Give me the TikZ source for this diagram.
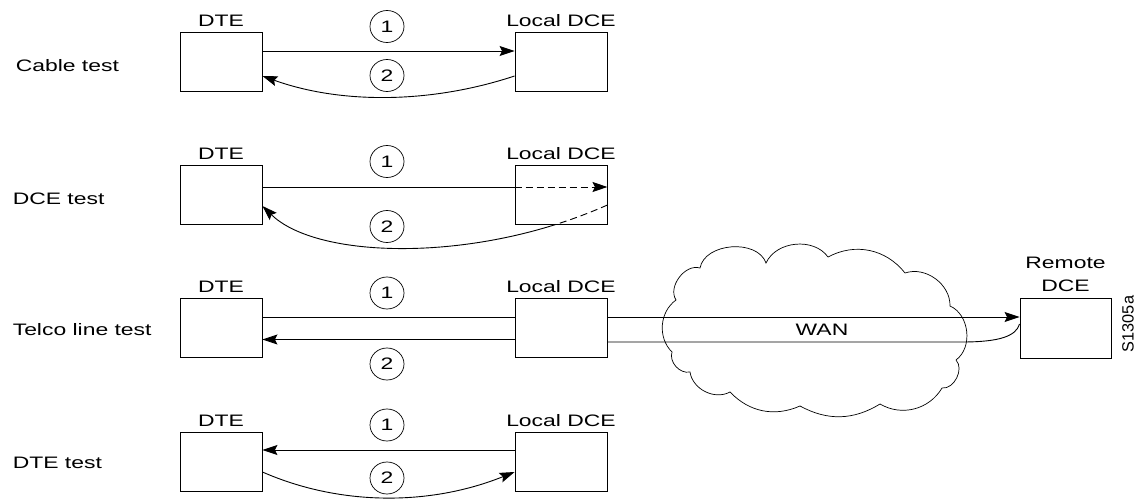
\documentclass[tikz,border=0pt]{standalone}
\usepackage{fontspec}
\setmainfont[FakeStretch=1.38]{Liberation Sans}
\newfontfamily\codefont{Liberation Sans}
\usetikzlibrary{arrows.meta,shapes.geometric,calc}
\begin{document}
\begin{tikzpicture}[x=1pt,y=-1pt,
  font=\fontsize{16.6}{19.5}\selectfont,
  line width=0.9pt,
  box/.style={draw, inner sep=0pt, minimum height=59pt},
  dtebox/.style={box, minimum width=82pt},
  dcebox/.style={box, minimum width=92pt},
  num/.style={draw, ellipse, minimum width=34pt, minimum height=32pt, inner sep=0pt, line width=0.7pt},
  tip/.style={-{Stealth[length=15pt,width=10pt,inset=2.5pt]}},
  rowname/.style={anchor=base west},
  boxname/.style={anchor=base}]
\useasboundingbox (0,0) rectangle (1147,500);

% row titles
\node[rowname] (r1) at (12,71.5) {Cable test};
\node[rowname] (r2) at (9,204) {DCE test};
\node[rowname] (r3) at (9,335.5) {Telco line test};
\node[rowname] (r4) at (9,468) {DTE test};

% boxes
\node[dtebox] (dte1) at (221,61.5) {};
\node[dcebox] (dce1) at (561,61.5) {};
\node[dtebox] (dte2) at (221,195) {};
\node[dcebox] (dce2) at (561,195) {};
\node[dtebox] (dte3) at (221,328) {};
\node[dcebox] (dce3) at (561,328) {};
\node[dtebox] (dte4) at (221,462) {};
\node[dcebox] (dce4) at (561,462) {};
\node[box, minimum width=91pt, minimum height=60pt] (rdce) at (1065.5,328) {};

% box captions
\foreach \i in {1,2,3,4}{
  \node[boxname] (ldte\i) at ([yshift=5.5pt]dte\i.north) {DTE};
  \node[boxname] (ldce\i) at ([yshift=5.5pt]dce\i.north) {Local DCE};
}
\node[anchor=south, align=center, inner sep=0pt, font=\fontsize{16.6}{23}\selectfont]
  (lrdce) at ([yshift=5.5pt]rdce.north) {Remote\\DCE};

% step numbers
\node[num] (c11) at (387,26.5) {1};
\node[num] (c12) at (387,75.5) {2};
\node[num] (c21) at (387,161.5) {1};
\node[num] (c22) at (387,226.5) {2};
\node[num] (c31) at (387,293) {1};
\node[num] (c32) at (387,364) {2};
\node[num] (c41) at (387,425) {1};
\node[num] (c42) at (387,478) {2};

% cable test
\draw[tip] ([yshift=10.5pt]dte1.east) -- ([yshift=10.5pt]dce1.west);
\draw[tip] ([yshift=-14.5pt]dce1.west) .. controls (430,104) and (340,104) .. ([yshift=-14.5pt]dte1.east);

% DCE test
\draw ([yshift=8pt]dte2.east) -- ([yshift=8pt]dce2.west);
\draw[tip, dash pattern=on 7pt off 4pt] ([yshift=8pt]dce2.west) -- ([yshift=8pt]dce2.east);
\coordinate (s2) at (554.1,225);
\draw[dash pattern=on 7pt off 4pt] ([yshift=-10pt]dce2.east) .. controls (589.9,212.7) and (572.1,219.4) .. (s2);
\draw[tip] (s2) .. controls (438.7,261) and (312.2,254.4) .. ([yshift=-11pt]dte2.east);

% telco line test
\draw ([yshift=11pt]dte3.east) -- ([yshift=11pt]dce3.west);
\draw[tip] ([yshift=-11.5pt]dce3.west) -- ([yshift=-11.5pt]dte3.east);
\draw[tip] ([yshift=11pt]dce3.east) -- ([yshift=11pt]rdce.west);
\coordinate (w3) at (962,342);
\draw ([yshift=-14pt]dce3.east) -- (w3) .. controls (1000,342) and (1016,336) .. ([yshift=4pt]rdce.west);

% WAN cloud
\draw[line width=0.7pt] (672,352) to[bend left=50] (676,300) to[bend left=70] (700,268)
  to[bend left=75] (766,263) to[bend left=60] (828,257) to[bend left=40] (905,273)
  to[bend left=55] (950,306) to[bend left=60] (956,360) to[bend left=70] (942,388)
  to[bend left=45] (880,404) to[bend left=30] (800,406) to[bend left=35] (730,392)
  to[bend left=55] (690,372) to[bend left=60] (672,352) -- cycle;
\node (wan) at (822,330) {WAN};

% DTE test
\draw[tip] ([yshift=12pt]dce4.west) -- ([yshift=12pt]dte4.east);
\draw[tip] ([yshift=-10pt]dte4.east) .. controls (340,506) and (430,506) .. ([yshift=-10pt]dce4.west);

% figure code
\node[rotate=90, font=\codefont\fontsize{16.3}{19.5}\selectfont] (code) at (1128,324) {S1305a};
\end{tikzpicture}
\end{document}
